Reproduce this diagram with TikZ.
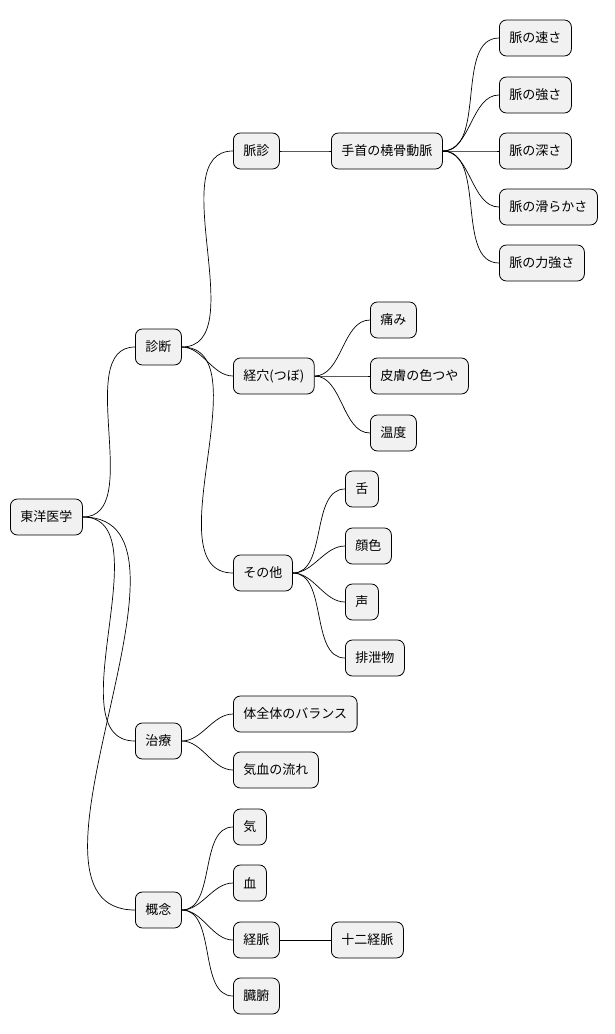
\documentclass[tikz,border=0pt]{standalone}
\usepackage{fontspec}
\setmainfont{Noto Sans CJK JP}
\begin{document}
\begin{tikzpicture}[x=1pt,y=1pt,
  n/.style={draw=black,fill={rgb,255:red,241;green,241;blue,241},rounded corners=7pt,line width=0.8pt,minimum height=36pt,inner xsep=10pt,anchor=west,font=\fontsize{13}{15}\selectfont},
  c/.style={line width=0.7pt,out=0,in=180,looseness=0.9}]
\useasboundingbox[fill=white] (0,0) rectangle (614,-1034);
\node[n] (r) at (10,-517) {東洋医学};
\node[n] (sd) at (135,-347) {診断};
\node[n] (cr) at (135,-741) {治療};
\node[n] (gn) at (135,-910) {概念};
\node[n] (ms) at (233,-151) {脈診};
\node[n] (kk) at (233,-376) {経穴(つぼ)};
\node[n] (st) at (233,-573) {その他};
\node[n] (bl) at (233,-714) {体全体のバランス};
\node[n] (kn) at (233,-770) {気血の流れ};
\node[n] (ki) at (233,-827) {気};
\node[n] (ch) at (233,-883) {血};
\node[n] (km) at (233,-940) {経脈};
\node[n] (zf) at (233,-996) {臓腑};
\node[n] (tk) at (331,-151) {手首の橈骨動脈};
\node[n] (p1) at (499,-38) {脈の速さ};
\node[n] (p2) at (499,-95) {脈の強さ};
\node[n] (p3) at (499,-151) {脈の深さ};
\node[n] (p4) at (499,-207) {脈の滑らかさ};
\node[n] (p5) at (499,-263) {脈の力強さ};
\node[n] (it) at (370,-320) {痛み};
\node[n] (hf) at (370,-376) {皮膚の色つや};
\node[n] (od) at (370,-433) {温度};
\node[n] (sh) at (345,-489) {舌};
\node[n] (ks) at (345,-546) {顔色};
\node[n] (ko) at (345,-602) {声};
\node[n] (hs) at (345,-658) {排泄物};
\node[n] (jn) at (331,-940) {十二経脈};
\foreach \a/\b in {r/sd,r/cr,r/gn,sd/ms,sd/kk,sd/st,cr/bl,cr/kn,gn/ki,gn/ch,gn/km,gn/zf,ms/tk,tk/p1,tk/p2,tk/p3,tk/p4,tk/p5,kk/it,kk/hf,kk/od,st/sh,st/ks,st/ko,st/hs,km/jn}
  \draw[c] (\a.east) to (\b.west);
\end{tikzpicture}
\end{document}
